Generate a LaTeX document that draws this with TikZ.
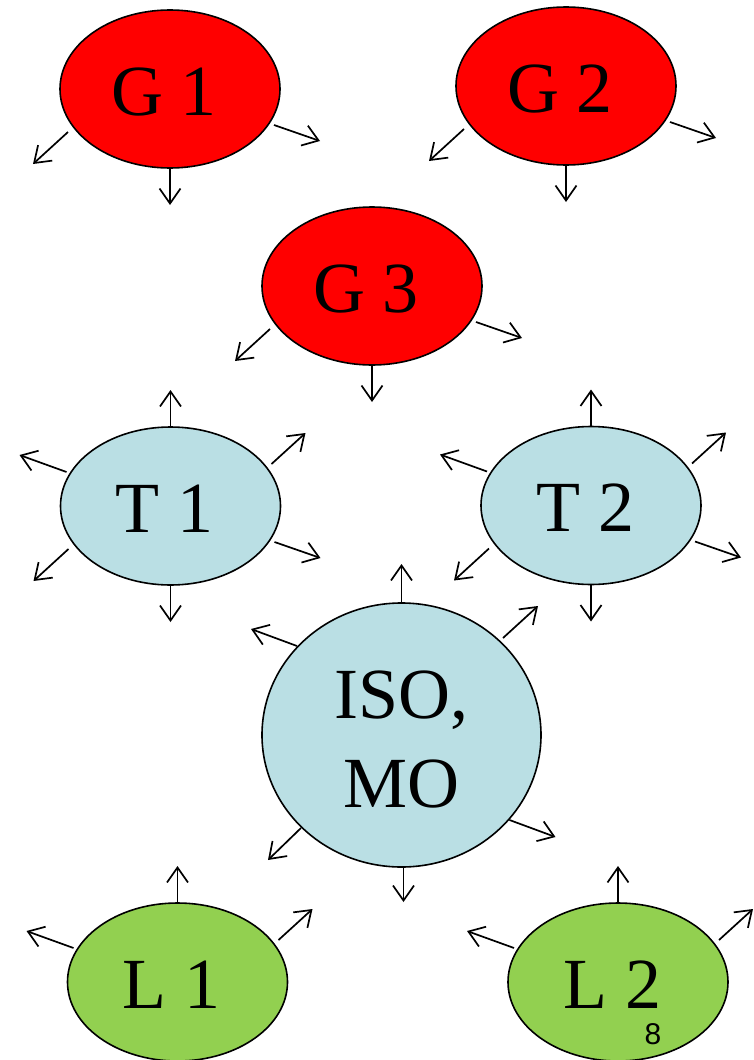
\documentclass[tikz,border=0pt]{standalone}
\usepackage{fontspec}
\setmainfont{Liberation Serif}
\newfontfamily\pagenumfont{Liberation Sans}
\usetikzlibrary{arrows.meta,shapes.geometric}

\definecolor{gencol}{HTML}{FF0000}
\definecolor{tracol}{HTML}{BADFE4}
\definecolor{loadcol}{HTML}{92D050}

\tikzset{
  unit/.style={ellipse, draw=black, line width=1.6pt, inner sep=0pt, outer sep=0pt,
    minimum width=220pt, minimum height=158pt,
    font=\fontsize{72}{89}\selectfont, text height=52pt, text depth=0pt},
  genunit/.style={unit, fill=gencol},
  traunit/.style={unit, fill=tracol},
  loadunit/.style={unit, fill=loadcol},
  hub/.style={ellipse, draw=black, line width=1.6pt, inner sep=0pt, outer sep=0pt,
    minimum width=279pt, minimum height=264pt, fill=tracol},
  hubtext/.style={font=\fontsize{72}{89}\selectfont, align=center, inner sep=0pt},
  flow/.style={line width=1.7pt, -{Straight Barb[length=15pt,width=21pt]}},
}

% outgoing arrows around an oval unit
\newcommand\flowLL[1]{\draw[flow] ([shift={(-102,43)}]#1.center) -- ++(-35,32);}
\newcommand\flowLR[1]{\draw[flow] ([shift={(104,36)}]#1.center) -- ++(46,16);}
\newcommand\flowUL[1]{\draw[flow] ([shift={(-104,-34)}]#1.center) -- ++(-47,-17);}
\newcommand\flowUR[1]{\draw[flow] ([shift={(101,-42)}]#1.center) -- ++(34,-31);}
\newcommand\flowD[1]{\draw[flow] (#1.south) -- ++(0,37);}
\newcommand\flowU[1]{\draw[flow] (#1.north) -- ++(0,-37);}

\begin{document}
\begin{tikzpicture}[x=1pt,y=-1pt]
  \clip (0,0) rectangle (753,1060);
  \fill[white] (0,0) rectangle (753,1060);

  % generators
  \node[genunit] (G1) at (170,89) {G 1\kern12pt};
  \node[genunit] (G2) at (566,86) {G 2\kern12pt};
  \node[genunit] (G3) at (372,286) {G 3\kern12pt};

  % transmission
  \node[traunit] (T1) at (170.5,506) {T 1\kern12pt};
  \node[traunit] (T2) at (591,505.5) {T 2\kern12pt};

  % system operator / market operator
  \node[hub] (ISO) at (401.5,735) {};
  \node[hubtext] (ISOtext) at ([yshift=-5pt]ISO.center) {ISO,\\MO};

  % loads
  \node[loadunit] (L1) at (177.5,982) {L 1\kern12pt};
  \node[loadunit] (L2) at (618,982) {L 2\kern12pt};

  \node[font=\pagenumfont\fontsize{30}{32}\selectfont, inner sep=0pt] (pg) at (653,1034) {8};

  % arrows
  \flowLL{G1} \flowD{G1} \flowLR{G1}
  \flowLL{G2} \flowD{G2} \flowLR{G2}
  \flowLL{G3} \flowD{G3} \flowLR{G3}

  \flowU{T1} \flowUL{T1} \flowUR{T1} \flowLR{T1} \flowLL{T1} \flowD{T1}
  \flowU{T2} \flowUL{T2} \flowUR{T2} \flowLR{T2} \flowLL{T2} \flowD{T2}

  \draw[flow] (ISO.north) -- ++(0,-39);
  \draw[flow] ([shift={(-104.5,-89)}]ISO.center) -- ++(-46,-17);
  \draw[flow] ([shift={(101.5,-97)}]ISO.center) -- ++(35,-32);
  \draw[flow] ([shift={(108,85)}]ISO.center) -- ++(46,17);
  \draw[flow] ([shift={(-100.5,93)}]ISO.center) -- ++(-33,32);
  \draw[flow] ([xshift=2pt]ISO.south) -- ++(0,35);

  \flowU{L1} \flowUL{L1} \flowUR{L1}
  \flowU{L2} \flowUL{L2} \flowUR{L2}
\end{tikzpicture}
\end{document}
